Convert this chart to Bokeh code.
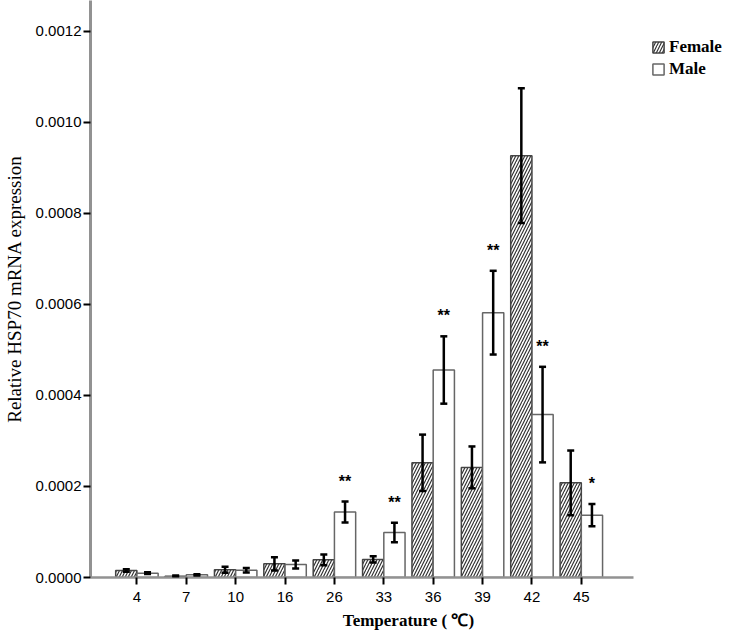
from bokeh.plotting import figure
from bokeh.models import (ColumnDataSource, Whisker, TeeHead, FixedTicker,
                          PrintfTickFormatter, Legend, LegendItem, Range1d)
from bokeh.core.properties import value
from bokeh.embed import file_html
from bokeh.resources import INLINE

# ---- data ----
temps = ["4", "7", "10", "16", "26", "33", "36", "39", "42", "45"]
female = [0.0000154, 0.0000030, 0.0000168, 0.0000300, 0.0000388, 0.0000396,
          0.000252, 0.000242, 0.000927, 0.000208]
female_err = [0.0000026, 0.0000015, 0.0000066, 0.0000147, 0.0000117, 0.0000069,
              0.000062, 0.000046, 0.000148, 0.000071]
male = [0.0000095, 0.0000059, 0.0000160, 0.0000286, 0.000144, 0.0000989,
        0.000456, 0.000582, 0.000358, 0.000137]
male_err = [0.0000020, 0.0000015, 0.0000050, 0.0000088, 0.000023, 0.0000216,
            0.000074, 0.000092, 0.000105, 0.0000245]
sig = ["", "", "", "", "**", "**", "**", "**", "**", "*"]

idx = list(range(len(temps)))
bw = 0.43
fx = [i - bw / 2 for i in idx]
mx = [i + bw / 2 for i in idx]

fsrc = ColumnDataSource(dict(x=fx, top=female,
                             upper=[v + e for v, e in zip(female, female_err)],
                             lower=[v - e for v, e in zip(female, female_err)]))
msrc = ColumnDataSource(dict(x=mx, top=male,
                             upper=[v + e for v, e in zip(male, male_err)],
                             lower=[v - e for v, e in zip(male, male_err)]))
ssrc = ColumnDataSource(dict(x=mx, y=[v + e + 0.000045 for v, e in zip(male, male_err)],
                             t=sig))

# frame extends to the right edge (room for the legend); the x axis is bounded
p = figure(width=726, height=632, output_backend="svg", toolbar_location=None,
           x_range=Range1d(-0.94, 11.94), y_range=Range1d(0, 0.001268),
           min_border_left=82, min_border_right=0, min_border_top=0,
           min_border_bottom=0)
p.outline_line_color = None
p.grid.visible = False
p.background_fill_color = "white"
p.border_fill_color = "white"

rf = p.vbar(x="x", top="top", width=bw, source=fsrc, fill_color="white",
            line_color="#444444", line_width=1.5, hatch_pattern="/",
            hatch_color="#333333", hatch_scale=6, hatch_weight=1.2)
rm = p.vbar(x="x", top="top", width=bw, source=msrc, fill_color="white",
            line_color="#666666", line_width=1.5)

for src in (fsrc, msrc):
    w = Whisker(base="x", upper="upper", lower="lower", source=src,
                line_color="black", line_width=2.5, level="overlay",
                upper_head=TeeHead(size=7, line_color="black", line_width=2.5),
                lower_head=TeeHead(size=7, line_color="black", line_width=2.5))
    p.add_layout(w)

p.text(x="x", y="y", text="t", source=ssrc, text_align="center",
       text_baseline="middle", text_font=value("Liberation Sans"),
       text_font_style="bold", text_font_size="16px", text_color="black")

# axes
p.xaxis.bounds = (-0.94, 10.06)
p.xaxis.ticker = FixedTicker(ticks=idx)
p.xaxis.major_label_overrides = {i: t for i, t in zip(idx, temps)}
p.xaxis.axis_label = "Temperature ( \u2103)"
p.yaxis.axis_label = "Relative HSP70 mRNA expression"
p.yaxis.ticker = FixedTicker(ticks=[0, 0.0002, 0.0004, 0.0006, 0.0008, 0.0010, 0.0012])
p.yaxis.formatter = PrintfTickFormatter(format="%.4f")

for ax in (p.xaxis[0], p.yaxis[0]):
    ax.minor_tick_line_color = None
    ax.major_tick_out = 7
    ax.major_tick_in = 0
    ax.major_tick_line_color = "black"
    ax.major_tick_line_width = 2
    ax.axis_line_color = "#929292"
    ax.major_label_text_font = "Liberation Sans"
    ax.major_label_text_font_size = "15px"
    ax.major_label_text_color = "black"
    ax.axis_label_text_font = "Liberation Serif"
    ax.axis_label_text_color = "black"

p.yaxis.axis_line_width = 3
p.xaxis.axis_line_width = 2.5
p.xaxis.major_label_standoff = 7
p.yaxis.major_label_standoff = 2
p.xaxis.axis_label_text_font_size = "17px"
p.xaxis.axis_label_text_font_style = "bold"
p.xaxis.axis_label_standoff = 6
p.yaxis.axis_label_text_font_size = "19px"
p.yaxis.axis_label_text_font_style = "normal"
p.yaxis.axis_label_standoff = 8

legend = Legend(items=[LegendItem(label="Female", renderers=[rf]),
                       LegendItem(label="Male", renderers=[rm])],
                location=(561, 498))
legend.border_line_color = None
legend.background_fill_alpha = 0
legend.label_text_font = "Liberation Serif"
legend.label_text_font_style = "bold"
legend.label_text_font_size = "17px"
legend.label_text_color = "black"
legend.glyph_width = 14
legend.glyph_height = 14
legend.label_height = 16
legend.label_standoff = 4
legend.spacing = 2
legend.padding = 0
legend.margin = 0
p.add_layout(legend)

open("out.html", "w").write(file_html(p, INLINE))
